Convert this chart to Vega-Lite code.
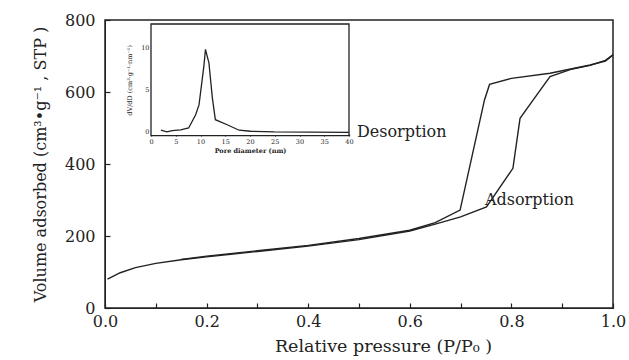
{
  "$schema": "https://vega.github.io/schema/vega-lite/v6.json",
  "autosize": {"type": "none"},
  "width": 508,
  "height": 288,
  "padding": {"left": 105, "top": 20, "right": 16, "bottom": 52},
  "background": "white",
  "config": {
    "view": {"stroke": "#222", "strokeWidth": 1.5},
    "font": "DejaVu Serif",
    "axis": {"labelFont": "DejaVu Serif", "titleFont": "DejaVu Serif", "labelColor": "#222", "titleColor": "#222", "titleFontWeight": "normal", "grid": false, "domainColor": "#222", "tickColor": "#222", "zindex": 1, "tickWidth": 1.2}
  },
  "datasets": {
    "iso": [
      {"p": 0.005, "v": 80, "branch": "Adsorption", "o": 1},
      {"p": 0.03, "v": 98, "branch": "Adsorption", "o": 2},
      {"p": 0.06, "v": 112, "branch": "Adsorption", "o": 3},
      {"p": 0.1, "v": 124, "branch": "Adsorption", "o": 4},
      {"p": 0.15, "v": 134, "branch": "Adsorption", "o": 5},
      {"p": 0.2, "v": 142, "branch": "Adsorption", "o": 6},
      {"p": 0.3, "v": 157, "branch": "Adsorption", "o": 7},
      {"p": 0.4, "v": 172, "branch": "Adsorption", "o": 8},
      {"p": 0.5, "v": 190, "branch": "Adsorption", "o": 9},
      {"p": 0.6, "v": 214, "branch": "Adsorption", "o": 10},
      {"p": 0.65, "v": 233, "branch": "Adsorption", "o": 11},
      {"p": 0.7, "v": 253, "branch": "Adsorption", "o": 12},
      {"p": 0.751, "v": 281, "branch": "Adsorption", "o": 13},
      {"p": 0.803, "v": 388, "branch": "Adsorption", "o": 14},
      {"p": 0.817, "v": 527, "branch": "Adsorption", "o": 15},
      {"p": 0.843, "v": 578, "branch": "Adsorption", "o": 16},
      {"p": 0.876, "v": 643, "branch": "Adsorption", "o": 17},
      {"p": 0.92, "v": 664, "branch": "Adsorption", "o": 18},
      {"p": 0.955, "v": 674, "branch": "Adsorption", "o": 19},
      {"p": 0.985, "v": 688, "branch": "Adsorption", "o": 20},
      {"p": 1.0, "v": 703, "branch": "Adsorption", "o": 21},
      {"p": 1.0, "v": 703, "branch": "Desorption", "o": 1},
      {"p": 0.985, "v": 686, "branch": "Desorption", "o": 2},
      {"p": 0.955, "v": 675, "branch": "Desorption", "o": 3},
      {"p": 0.876, "v": 652, "branch": "Desorption", "o": 4},
      {"p": 0.8, "v": 638, "branch": "Desorption", "o": 5},
      {"p": 0.757, "v": 621, "branch": "Desorption", "o": 6},
      {"p": 0.747, "v": 578, "branch": "Desorption", "o": 7},
      {"p": 0.699, "v": 272, "branch": "Desorption", "o": 8},
      {"p": 0.65, "v": 237, "branch": "Desorption", "o": 9},
      {"p": 0.6, "v": 216, "branch": "Desorption", "o": 10},
      {"p": 0.5, "v": 193, "branch": "Desorption", "o": 11},
      {"p": 0.4, "v": 174, "branch": "Desorption", "o": 12},
      {"p": 0.3, "v": 159, "branch": "Desorption", "o": 13},
      {"p": 0.2, "v": 144, "branch": "Desorption", "o": 14},
      {"p": 0.15, "v": 135, "branch": "Desorption", "o": 15}
    ],
    "psd": [
      {"d": 2.0, "dv": 0.2},
      {"d": 3.2, "dv": 0.0},
      {"d": 4.3, "dv": 0.15},
      {"d": 6.0, "dv": 0.23},
      {"d": 7.6, "dv": 0.47},
      {"d": 9.0, "dv": 2.0},
      {"d": 9.7, "dv": 3.2},
      {"d": 10.7, "dv": 7.9},
      {"d": 11.0, "dv": 9.8},
      {"d": 11.7, "dv": 8.2},
      {"d": 12.4, "dv": 4.0},
      {"d": 13.0, "dv": 1.45},
      {"d": 15.4, "dv": 0.85},
      {"d": 17.8, "dv": 0.2},
      {"d": 20.1, "dv": 0.08},
      {"d": 24.9, "dv": 0.0},
      {"d": 40.0, "dv": -0.05}
    ],
    "notes": [
      {"label": "Desorption", "p": 0.496, "v": 489},
      {"label": "Adsorption", "p": 0.748, "v": 300}
    ]
  },
  "layer": [
    {
      "layer": [
        {
          "data": {"name": "iso"},
          "mark": {"type": "line", "color": "#222", "strokeWidth": 1.4},
          "encoding": {
            "x": {"field": "p", "type": "quantitative", "scale": {"domain": [0, 1], "nice": false},
              "axis": {"values": [0, 0.1, 0.2, 0.3, 0.4, 0.5, 0.6, 0.7, 0.8, 0.9, 1.0], "labelExpr": "round(datum.value*10)%2==0 ? format(datum.value,'.1f') : ''", "tickSize": -5, "labelPadding": 10, "labelFontSize": 16, "title": "Relative pressure   (P/P₀ )", "titleFontSize": 17.5, "titlePadding": 8, "titleX": 278, "titleAlign": "center", "labelFlush": false}},
            "y": {"field": "v", "type": "quantitative", "scale": {"domain": [0, 800], "nice": false},
              "axis": {"values": [0, 100, 200, 300, 400, 500, 600, 700, 800], "labelExpr": "datum.value%200==0 ? datum.value : ''", "tickSize": -5, "labelPadding": 15, "labelFontSize": 16, "title": "Volume adsorbed  (cm³•g⁻¹ ,  STP )", "titleFontSize": 16, "titlePadding": 16, "labelFlush": false}},
            "detail": {"field": "branch"},
            "order": {"field": "o", "type": "quantitative"}
          }
        },
        {
          "data": {"name": "notes"},
          "mark": {"type": "text", "align": "left", "baseline": "middle", "fontSize": 16, "font": "DejaVu Serif", "color": "#222"},
          "encoding": {
            "x": {"field": "p", "type": "quantitative"},
            "y": {"field": "v", "type": "quantitative"},
            "text": {"field": "label"}
          }
        }
      ]
    },
    {
      "layer": [
        {
          "data": {"values": [{}]},
          "mark": {"type": "rect", "fill": "white", "stroke": "#222", "strokeWidth": 1.3},
          "encoding": {
            "x": {"datum": 0, "type": "quantitative"},
            "x2": {"datum": 40},
            "y": {"datum": -0.45, "type": "quantitative"},
            "y2": {"datum": 12.8}
          }
        },
        {
          "data": {"name": "psd"},
          "mark": {"type": "line", "color": "#222", "strokeWidth": 1.3},
          "encoding": {
            "x": {"field": "d", "type": "quantitative", "scale": {"domain": [0, 40], "range": [46, 244], "nice": false},
              "axis": {"orient": "bottom", "offset": -172, "values": [0, 5, 10, 15, 20, 25, 30, 35, 40], "tickSize": -2, "labelPadding": 4, "labelFontSize": 6.5, "domain": false, "labelFlush": false, "title": "Pore diameter   (nm)", "titleFontSize": 6.5, "titlePadding": 3, "titleFontWeight": "bold"}},
            "y": {"field": "dv", "type": "quantitative", "scale": {"domain": [-0.45, 12.8], "range": [115.7, 4], "nice": false, "zero": false},
              "axis": {"orient": "left", "offset": -46, "values": [0, 5, 10], "tickSize": -2, "labelPadding": 4, "labelFontSize": 6.5, "domain": false, "labelFlush": false, "title": "dV/dD  (cm³·g⁻¹·nm⁻¹)", "titleFontSize": 6.5, "titlePadding": 8}}
          }
        }
      ]
    }
  ],
  "resolve": {"scale": {"x": "independent", "y": "independent"}, "axis": {"x": "independent", "y": "independent"}}
}
